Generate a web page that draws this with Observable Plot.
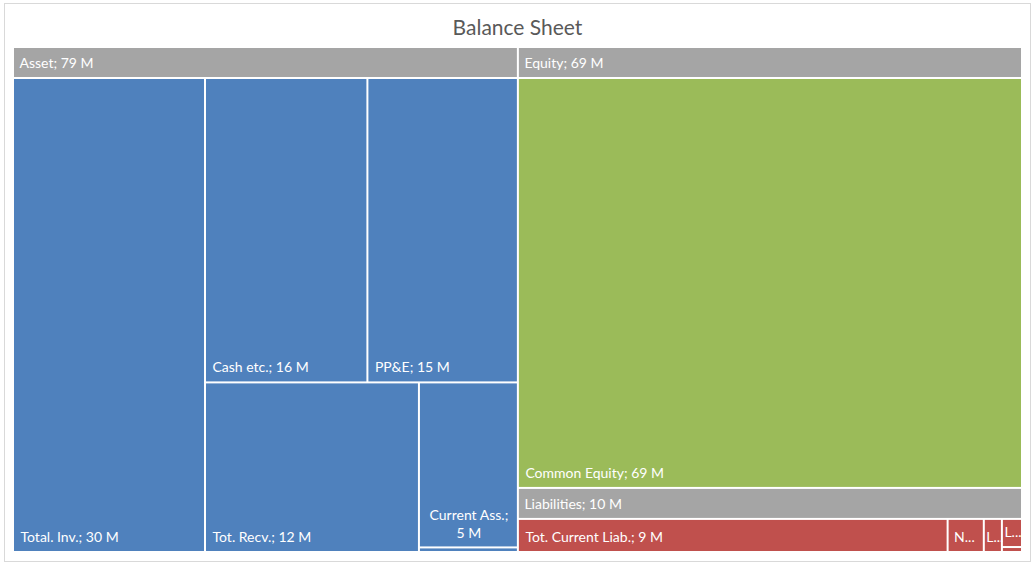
<!DOCTYPE html>
<html><head><meta charset="utf-8">
<script src="https://cdn.jsdelivr.net/npm/d3@7"></script>
<script src="https://cdn.jsdelivr.net/npm/@observablehq/plot@0.6"></script>
<style>
body{margin:0;background:#fff;font-family:Lato,sans-serif;}
#frame{position:absolute;left:4px;top:3px;width:1027px;height:559px;border:1px solid #d9d9d9;box-sizing:border-box;}
#title{position:absolute;left:0;top:14px;width:1035px;text-align:center;font-size:21px;color:#595959;}
#chart{position:absolute;left:0;top:47px;}
</style></head><body>
<div id="frame"></div><div id="title">Balance Sheet</div><div id="chart"></div>
<script>
// ---- data ----
const groupNames = ["Asset", "Equity", "Liabilities"];
const groupColors = ["#4f81bd", "#9bbb59", "#c0504d"];
const assetNames = ["Total. Inv.", "Cash etc.", "PP&E", "Tot. Recv.", "Current Ass.", "Other Assets"];
const assetValues = [30.1, 16.35, 15.15, 12.0, 5.4, 0.15];
const equityNames = ["Common Equity"];
const equityValues = [69.0];
const liabNames = ["Tot. Current Liab.", "Non-Current Liab.", "LT Debt", "Lease Liab.", "Other Liab."];
const liabValues = [8.55, 0.72, 0.36, 0.34, 0.06];
const groupItems = [[assetNames, assetValues], [equityNames, equityValues], [liabNames, liabValues]];
// strip structure of the treemap (Excel-like): direction and number of items per strip
const stripSpec = {
  root: [["col", 1], ["row", 1], ["row", 1]],
  Asset: [["col", 1], ["row", 2], ["col", 1], ["row", 1], ["row", 1]],
  Equity: [["row", 1]],
  Liabilities: [["col", 1], ["col", 1], ["col", 1], ["row", 1], ["row", 1]]
};

const W = 1009, H = 505, HEADER = 31;
const FS = 14;

const tree = {name: "root", children: groupNames.map((g, i) => ({
  name: g, color: groupColors[i],
  children: groupItems[i][0].map((n, j) => ({name: n, value: groupItems[i][1][j]}))
}))};

function tile(node, x0, y0, x1, y1) {
  const spec = stripSpec[node.data.name];
  const kids = node.children; let i = 0; let rem = node.value;
  for (const [dir, n] of spec) {
    const row = kids.slice(i, i + n); i += n;
    const s = d3.sum(row, d => d.value);
    if (dir === "col") {
      const xe = x0 + (x1 - x0) * s / rem; let y = y0;
      for (const c of row) { c.x0 = x0; c.x1 = xe; c.y0 = y; y += (y1 - y0) * c.value / s; c.y1 = y; }
      x0 = xe;
    } else {
      const ye = y0 + (y1 - y0) * s / rem; let x = x0;
      for (const c of row) { c.y0 = y0; c.y1 = ye; c.x0 = x; x += (x1 - x0) * c.value / s; c.x1 = x; }
      y0 = ye;
    }
    rem -= s;
  }
}

const root = d3.hierarchy(tree).sum(d => d.value ?? 0);
d3.treemap().size([W, H]).paddingTop(n => n.depth === 1 ? HEADER : 0).tile(tile)(root);

const fmt = v => `${Math.round(v)} M`;
const leaves = root.leaves().map(d => ({x0: d.x0, x1: d.x1, y0: d.y0, y1: d.y1, color: d.parent.data.color, name: d.data.name, value: d.value}));
const headers = root.children.map(n => ({x0: n.x0, x1: n.x1, y0: n.y0, y1: n.y0 + HEADER, label: `${n.data.name}; ${fmt(n.value)}`}));

const ctx = document.createElement("canvas").getContext("2d");
ctx.font = `${FS}px Lato`;
const mw = s => ctx.measureText(s).width;

const startLabels = headers.map(h => ({x: h.x0 + 6, y: (h.y0 + h.y1) / 2 + 0.5, text: h.label}));
const midLabels = [];
for (const d of leaves) {
  const w = d.x1 - d.x0 - 2, h = d.y1 - d.y0 - 2;
  const full = `${d.name}; ${fmt(d.value)}`;
  if (w < 10 || h < 16) continue;
  if (mw(full) <= w - 12) {
    startLabels.push({x: d.x0 + 7, y: d.y1 - 15, text: full});
  } else if (mw(d.name + ";") <= w - 8 && h >= 40) {
    midLabels.push({x: (d.x0 + d.x1) / 2, y: d.y1 - 25, text: `${d.name};\n${fmt(d.value)}`});
  } else {
    let k = 1;
    while (k < full.length && mw(full.slice(0, k + 1) + "...") <= w - 12) k++;
    startLabels.push({x: d.x0 + (w < 25 ? 2 : 6), y: d.y1 - 15, text: full.slice(0, k) + "..."});
  }
}

const chart = Plot.plot({
  width: 1035, height: 507,
  marginLeft: 13, marginRight: 13, marginTop: 0, marginBottom: 2,
  x: {domain: [0, W], axis: null},
  y: {domain: [0, H], range: [0, H], axis: null},
  color: {type: "identity"},
  style: {fontFamily: "Lato, sans-serif", background: "transparent"},
  marks: [
    Plot.rect(headers, {x1: "x0", x2: "x1", y1: "y0", y2: "y1", fill: "#a5a5a5", inset: 1}),
    Plot.rect(leaves, {x1: "x0", x2: "x1", y1: "y0", y2: "y1", fill: "color", inset: 1}),
    Plot.text(startLabels, {x: "x", y: "y", text: "text", textAnchor: "start", lineAnchor: "middle", fill: "white", fontSize: FS}),
    Plot.text(midLabels, {x: "x", y: "y", text: "text", textAnchor: "middle", lineAnchor: "middle", lineHeight: 1.3, fill: "white", fontSize: FS})
  ]
});
document.getElementById("chart").appendChild(chart);
</script>
</body></html>
